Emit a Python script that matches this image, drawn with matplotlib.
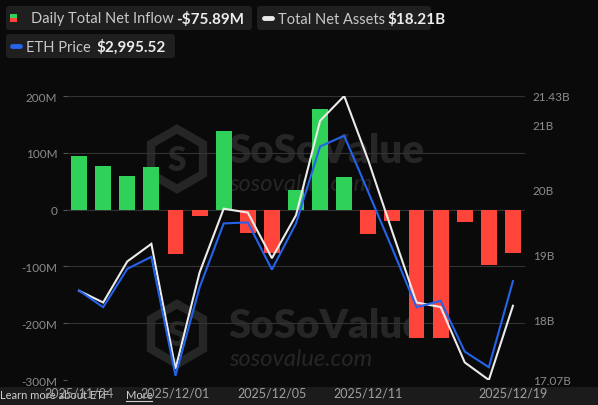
import matplotlib
matplotlib.use("Agg")
import matplotlib.pyplot as plt
from matplotlib.patches import FancyBboxPatch, Rectangle, RegularPolygon
import numpy as np

# ---------------- data ----------------
dates = ["2025/11/24", "2025/11/25", "2025/11/26", "2025/11/28", "2025/12/01",
         "2025/12/02", "2025/12/03", "2025/12/04", "2025/12/05", "2025/12/08",
         "2025/12/09", "2025/12/10", "2025/12/11", "2025/12/12", "2025/12/15",
         "2025/12/16", "2025/12/17", "2025/12/18", "2025/12/19"]
net_inflow_m = [95, 77.5, 60, 75, -79, -10.6, 139, -42, -76, 34,
                177, 57, -43, -19.4, -226, -226, -22, -97, -75.89]
total_assets_b = [18.44, 18.26, 18.89, 19.16, 17.24, 18.72, 19.70, 19.64, 18.94, 19.60,
                  21.05, 21.43, 20.44, 19.34, 18.26, 18.19, 17.34, 17.07, 18.21]
eth_price = [2969, 2922, 3030, 3064, 2729, 2978, 3158, 3161, 3028, 3158,
             3375, 3405, 3246, 3086, 2922, 2940, 2797, 2753, 2995.52]
shown_dates = ["2025/11/24", "2025/12/01", "2025/12/05", "2025/12/11", "2025/12/19"]
left_ticks = [-300, -200, -100, 0, 100, 200]
right_ticks = [17.07, 18, 19, 20, 21, 21.43]

W, H = 598, 406
BG = "#0a0a0a"
GREEN = "#30d158"
RED = "#ff453a"
WHITE = "#ebebeb"
BLUE = "#2563eb"
GRID = "#333333"
TICKC = "#8c8c8c"
FONT = ["Lato", "DejaVu Sans"]
plt.rcParams["font.family"] = FONT

fig = plt.figure(figsize=(W / 100, H / 100), dpi=100, facecolor=BG)

def fx(x):
    return x / W

def fy(y):
    return 1 - y / H

# background / overlay axes in pixel coords
bg = fig.add_axes([0, 0, 1, 1], zorder=0)
bg.set_xlim(0, W)
bg.set_ylim(H, 0)
bg.axis("off")
bg.set_facecolor(BG)

# watermarks
WM = "#262626"
for cy in (160, 335):
    bg.add_patch(RegularPolygon((177, cy), numVertices=6, radius=30,
                                orientation=0, fill=False, ec=WM, lw=6, zorder=1))
    bg.text(177, cy + 1, "S", color=WM, fontsize=24, fontweight="heavy",
            ha="center", va="center", zorder=1)
    bg.text(228, cy - 8, "SoSoValue", color=WM, fontsize=29, fontweight="heavy",
            ha="left", va="center", zorder=1)
    bg.text(229, cy + 25, "sosovalue.com", color=WM, fontsize=17, style="italic",
            ha="left", va="center", zorder=1)

# bottom strip
bg.add_patch(Rectangle((0, 388), W, H - 388, fc="#1b1b1b", ec="none", zorder=2))
bg.text(0, 396, "Learn more about ETF", color="#cfcfcf", fontsize=8,
        ha="left", va="center", zorder=3)
bg.text(126, 396, "More", color="#cfcfcf", fontsize=8,
        ha="left", va="center", zorder=3)
bg.plot([126, 152], [401.5, 401.5], color="#cfcfcf", lw=0.8, zorder=3)

# ---------------- main axes ----------------
left, right, top, bottom = 67, 525, 97, 381
pos = [fx(left), fy(bottom), (right - left) / W, (bottom - top) / H]
ax = fig.add_axes(pos, zorder=1)
ax.patch.set_visible(False)
x = np.arange(len(dates))
colors = [GREEN if v >= 0 else RED for v in net_inflow_m]
ax.bar(x, net_inflow_m, width=0.66, color=colors, zorder=2)
ax.set_xlim(-0.5, len(dates) - 0.5)
ax.set_ylim(-300, 200)
ax.set_yticks(left_ticks)
ax.set_yticklabels([("%dM" % v) if v != 0 else "0" for v in left_ticks])
ax.grid(axis="y", color=GRID, lw=0.8, zorder=0)
ax.set_axisbelow(True)
for s in ax.spines.values():
    s.set_visible(False)
ax.tick_params(axis="y", colors="#555555", labelcolor=TICKC, length=3, width=0.8,
               pad=4, labelsize=8.5, right=True)
idx = [dates.index(d) for d in shown_dates]
ax.set_xticks(idx)
ax.set_xticklabels(shown_dates)
ax.tick_params(axis="x", length=0, pad=5, labelsize=9, labelcolor="#a0a0a0")

ax2 = ax.twinx()
ax2.set_zorder(2)
ax2.patch.set_visible(False)
ax2.plot(x, total_assets_b, color=WHITE, lw=1.5, zorder=3, solid_joinstyle="miter")
ax2.set_ylim(17.07, 21.43)
ax2.set_yticks(right_ticks)
ax2.set_yticklabels([("%gB" % v) for v in right_ticks])
ax2.tick_params(axis="y", length=0, pad=5.5, labelsize=8.5, labelcolor=TICKC)
for s in ax2.spines.values():
    s.set_visible(False)

ax3 = ax.twinx()
ax3.set_zorder(3)
ax3.patch.set_visible(False)
ax3.plot(x, eth_price, color=BLUE, lw=1.5, zorder=4, solid_joinstyle="miter")
ax3.set_ylim(2717, 3517)
ax3.set_yticks([])
for s in ax3.spines.values():
    s.set_visible(False)

# ---------------- legend overlay ----------------
fg = fig.add_axes([0, 0, 1, 1], zorder=5)
fg.set_xlim(0, W)
fg.set_ylim(H, 0)
fg.axis("off")
fg.patch.set_visible(False)
BOX = "#1f1f1f"
for (x0, y0, x1, y1) in [(6, 7, 252, 31), (257, 7, 431, 31), (6, 35, 175, 59)]:
    fg.add_patch(FancyBboxPatch((x0, y0), x1 - x0, y1 - y0,
                                boxstyle="round,pad=0,rounding_size=3",
                                fc=BOX, ec="none"))
# icons
fg.add_patch(Rectangle((10, 15), 7, 4, fc=GREEN, ec="none"))
fg.add_patch(Rectangle((10, 19), 7, 4, fc=RED, ec="none"))
fg.plot([264, 272], [19, 19], color=WHITE, lw=3.5, solid_capstyle="round")
fg.plot([12, 20], [47, 47], color=BLUE, lw=3.5, solid_capstyle="round")
LT = "#c8c8c8"
fs = 10.5
fg.text(31, 19.5, "Daily Total Net Inflow", color=LT, fontsize=fs, va="center", ha="left")
fg.text(176, 19.5, "-$75.89M", color="#ececec", fontsize=fs + 0.5, fontweight="bold",
        va="center", ha="left")
fg.text(278, 19.5, "Total Net Assets", color=LT, fontsize=fs, va="center", ha="left")
fg.text(387, 19.5, "$18.21B", color="#ececec", fontsize=fs + 0.5, fontweight="bold",
        va="center", ha="left")
fg.text(26, 47.5, "ETH Price", color=LT, fontsize=fs, va="center", ha="left")
fg.text(96, 47.5, "$2,995.52", color="#ececec", fontsize=fs + 0.5, fontweight="bold",
        va="center", ha="left")

fig.savefig("out.png", dpi=100, facecolor=BG)
